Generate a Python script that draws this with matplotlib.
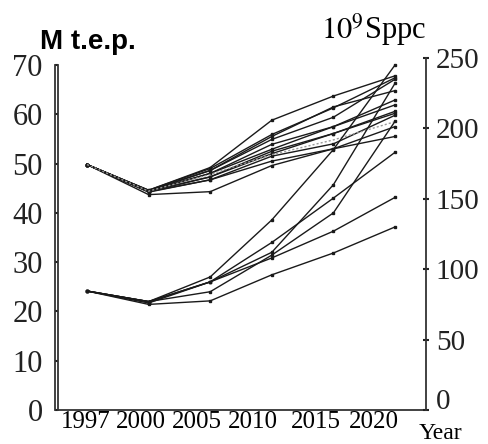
import matplotlib
matplotlib.use("Agg")
import matplotlib.pyplot as plt
from matplotlib.lines import Line2D

plt.rcParams['mathtext.fontset'] = 'stix'

# ---------------- data ----------------
years = ["1997", "2000", "2005", "2010", "2015", "2020"]

# energy scenarios (left axis, M t.e.p.)
energy_1 = [49.8, 44.6, 49.2, 58.8, 63.7, 67.8]
energy_2 = [49.8, 44.6, 49.0, 55.9, 61.3, 67.4]
energy_3 = [49.8, 44.5, 48.6, 54.9, 59.4, 67.1]
energy_4 = [49.8, 44.5, 48.6, 55.5, 61.5, 64.8]
energy_5 = [49.8, 44.5, 48.0, 53.9, 57.5, 62.9]
energy_6 = [49.8, 44.4, 48.0, 52.9, 57.5, 61.9]
energy_7 = [49.8, 44.4, 47.3, 52.0, 56.1, 60.6]
energy_8 = [49.8, 44.3, 47.3, 52.5, 56.1, 60.2]
energy_9 = [49.8, 44.3, 46.7, 51.5, 54.0, 59.8]
energy_10 = [49.8, 44.2, 46.7, 50.5, 53.0, 57.5]
energy_11 = [49.8, 43.7, 44.3, 49.6, 53.0, 55.5]
energy_dotted = [49.8, 44.4, 47.8, 51.8, 54.8, 58.5]

# GDP scenarios (right axis, 10^9 Sppc)
gdp_1 = [84.5, 77, 94.5, 135, 185, 245]
gdp_2 = [84.5, 77, 91, 119, 150.5, 183]
gdp_3 = [84.5, 77, 91, 112, 160, 232]
gdp_4 = [84.5, 76, 91, 108, 127, 151]
gdp_5 = [84.5, 75, 77.5, 96, 111.5, 130]
gdp_6 = [84.5, 77, 84, 110, 140, 205]

energy_series = [energy_1, energy_2, energy_3, energy_4, energy_5, energy_6,
                 energy_7, energy_8, energy_9, energy_10, energy_11]
gdp_series = [gdp_1, gdp_2, gdp_3, gdp_4, gdp_5, gdp_6]

left_ticks = [0, 10, 20, 30, 40, 50, 60, 70]
right_ticks = [0, 50, 100, 150, 200, 250]

# ---------------- figure ----------------
W, H = 489, 444
fig = plt.figure(figsize=(W / 100, H / 100), dpi=100)
ax_l, ax_r, ax_b, ax_t = 58, 426, 410, 58
ax = fig.add_axes([ax_l / W, (H - ax_b) / H, (ax_r - ax_l) / W, (ax_b - ax_t) / H])
ax2 = ax.twinx()

x = list(range(len(years)))
line_kw = dict(color='#1a1a1a', lw=1.0, marker='s', markersize=2.0)
for s in energy_series:
    ax.plot(x, s, **line_kw)
ax.plot(x, energy_dotted, color='#999999', lw=1.0, ls=(0, (1.5, 1.5)))
for s in gdp_series:
    ax2.plot(x, s, **line_kw)

# axes limits: left 70 at y=65 px, right 250 at y=58 px
top_left = 70 * (ax_b - ax_t) / (ax_b - 65)
ax.set_ylim(0, top_left)
ax2.set_ylim(0, 250)
ax.set_xlim(-(87 - ax_l) / 61.6, (ax_r - 87) / 61.6)

serif = 'Liberation Serif'
ax.set_yticks(left_ticks)
ax.set_yticklabels([str(t) for t in left_ticks], fontfamily=serif, fontsize=22)
ax2.set_yticks(right_ticks)
# the right "0" is written separately, slightly raised as in the original
ax2.set_yticklabels([""] + [str(t) for t in right_ticks[1:]], fontfamily=serif, fontsize=21)

label_pos = [-0.02, 0.88, 1.79, 2.70, 3.72, 4.66]
ax.set_xticks(label_pos)
ax.set_xticklabels(years, fontfamily=serif, fontsize=18)
ax.tick_params(axis='x', length=0, pad=1)
ax.tick_params(axis='y', direction='out', length=2, width=1.5, pad=9, colors='#222')
ax2.tick_params(axis='y', direction='inout', length=4, width=1.5, pad=5, colors='#222')

for a in (ax, ax2):
    a.spines['top'].set_visible(False)
    for sp in a.spines.values():
        sp.set_color('#333333')
        sp.set_linewidth(1.3)
ax.spines['left'].set_bounds(0, 70)
ax2.spines['left'].set_visible(False)
ax2.spines['bottom'].set_visible(False)
ax.spines['right'].set_visible(False)

# double left axis line
fig.add_artist(Line2D([55 / W, 55 / W], [(H - ax_b) / H, (H - 65) / H],
                      color='#333333', lw=1.3, transform=fig.transFigure))

fig.text(436 / W, 1 - 402 / H, str(right_ticks[0]), fontfamily=serif, fontsize=21,
         ha='left', va='center', color='#222')
fig.text(88 / W, 1 - 42 / H, "M t.e.p.", fontfamily='Liberation Sans',
         fontweight='bold', fontsize=20, ha='center', va='center')
fig.text(374 / W, 1 - 30 / H, r"$10^9$Sppc", fontfamily=serif,
         fontsize=22, ha='center', va='center')
fig.text(440 / W, 1 - 433 / H, "Year", fontfamily=serif, fontsize=17,
         ha='center', va='center')

fig.savefig("out.png", dpi=100)
